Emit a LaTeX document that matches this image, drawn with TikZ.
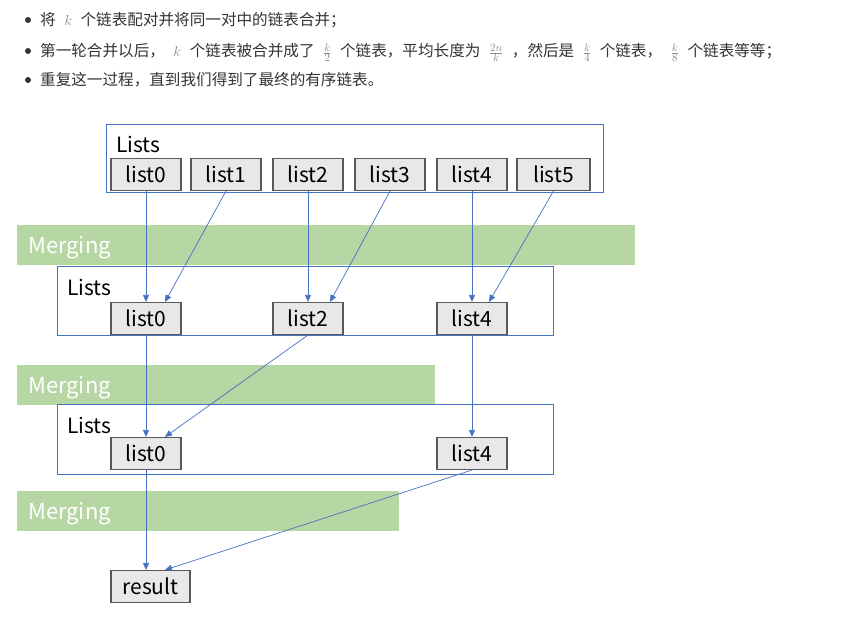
\documentclass[tikz,border=0pt]{standalone}
\usepackage{fontspec}
\setmainfont{Noto Sans CJK SC}
\usetikzlibrary{positioning,arrows.meta}
\definecolor{frameblue}{HTML}{4472C4}
\definecolor{mergegreen}{HTML}{B6D6A3}
\definecolor{boxgray}{HTML}{E8E8E8}
\definecolor{boxedge}{HTML}{595959}
\definecolor{bodytext}{HTML}{333333}
\definecolor{mathgray}{HTML}{8A8A8A}
\newcommand{\gm}[1]{\hspace{8.5pt}{\color{mathgray}$#1$}\hspace{8.5pt}}
\tikzstyle{listbox} = [draw=boxedge, line width=1.1pt, fill=boxgray, minimum width=70pt, minimum height=32pt, inner sep=0pt, font=\fontsize{21}{21}\selectfont]
\tikzstyle{frame} = [draw=frameblue, line width=0.8pt, inner sep=0pt, anchor=north west]
\tikzstyle{band} = [fill=mergegreen, inner sep=0pt, anchor=north west, minimum height=40pt]
\tikzstyle{bandtext} = [text=white, anchor=west, inner sep=0pt, font=\fontsize{22}{22}\selectfont]
\tikzstyle{listslabel} = [anchor=west, inner sep=0pt, font=\fontsize{21}{21}\selectfont]
\tikzstyle{bullet} = [circle, fill=bodytext, inner sep=0pt, minimum size=6pt]
\tikzstyle{line} = [anchor=base west, inner sep=0pt, text=bodytext, font=\fontsize{15.6}{16}\selectfont]
\tikzstyle{link} = [frameblue, line width=0.7pt, -{Triangle[length=7pt,width=6pt]}]

\begin{document}
\begin{tikzpicture}[x=1pt, y=-1pt, node distance=82pt]
    \useasboundingbox (0,0) rectangle (860,618);

    % notes above the picture
    \node [bullet] (b1) at (28,20) {};
    \node [bullet] (b2) at (28,51) {};
    \node [bullet] (b3) at (28,80) {};
    \node [line] (t1) at (40,26) {将\gm{k}个链表配对并将同一对中的链表合并；};
    \node [line] (t2) at (40,57) {第一轮合并以后，\gm{k}个链表被合并成了\gm{\frac{k}{2}}个链表，平均长度为\gm{\frac{2n}{k}}，然后是\gm{\frac{k}{4}}个链表，\gm{\frac{k}{8}}个链表等等；};
    \node [line] (t3) at (40,86) {重复这一过程，直到我们得到了最终的有序链表。};

    % frames and merging bands
    \node [frame, minimum width=497pt, minimum height=68pt] (lists1) at (106,124) {};
    \node [band, minimum width=618pt] (merge1) at (17,225) {};
    \node [frame, minimum width=496pt, minimum height=69pt] (lists2) at (57,266) {};
    \node [band, minimum width=418pt] (merge2) at (17,365) {};
    \node [frame, minimum width=496pt, minimum height=70pt] (lists3) at (57,404) {};
    \node [band, minimum width=382pt] (merge3) at (17,491) {};

    \node [listslabel] (lab1) at ([xshift=10pt,yshift=-20pt]lists1.north west) {Lists};
    \node [listslabel] (lab2) at ([xshift=10pt,yshift=-21pt]lists2.north west) {Lists};
    \node [listslabel] (lab3) at ([xshift=10pt,yshift=-21pt]lists3.north west) {Lists};
    \node [bandtext] (mt1) at ([xshift=11pt,yshift=-3pt]merge1.west) {Merging};
    \node [bandtext] (mt2) at ([xshift=11pt,yshift=-3pt]merge2.west) {Merging};
    \node [bandtext] (mt3) at ([xshift=11pt,yshift=-3pt]merge3.west) {Merging};

    % first row
    \node [listbox] (l0a) at (146,174.5) {list0};
    \node [listbox, right of=l0a, node distance=80pt] (l1a) {list1};
    \node [listbox, right of=l1a] (l2a) {list2};
    \node [listbox, right of=l2a] (l3a) {list3};
    \node [listbox, right of=l3a] (l4a) {list4};
    \node [listbox, right of=l4a, node distance=81.5pt, minimum width=73pt] (l5a) {list5};

    % second row
    \node [listbox] (l0b) at (146,318.5) {list0};
    \node [listbox] (l2b) at (308,318.5) {list2};
    \node [listbox] (l4b) at (472,318.5) {list4};

    % third row
    \node [listbox] (l0c) at (146,453.5) {list0};
    \node [listbox] (l4c) at (472,453.5) {list4};

    \node [listbox, minimum width=79pt] (res) at (150.5,586.5) {result};

    \draw [link] (l0a) -- (l0b);
    \draw [link] (l1a.south) -- ([xshift=19pt]l0b.north);
    \draw [link] (l2a) -- (l2b);
    \draw [link] (l3a.south) -- ([xshift=22pt]l2b.north);
    \draw [link] (l4a) -- (l4b);
    \draw [link] (l5a.south) -- ([xshift=17pt]l4b.north);

    \draw [link] (l0b) -- (l0c);
    \draw [link] (l2b.south) -- ([xshift=19pt]l0c.north);
    \draw [link] (l4b) -- (l4c);

    \draw [link] (l0c.south) -- ([xshift=-4.5pt]res.north);
    \draw [link] (l4c.south) -- ([xshift=14.5pt]res.north);
\end{tikzpicture}
\end{document}
